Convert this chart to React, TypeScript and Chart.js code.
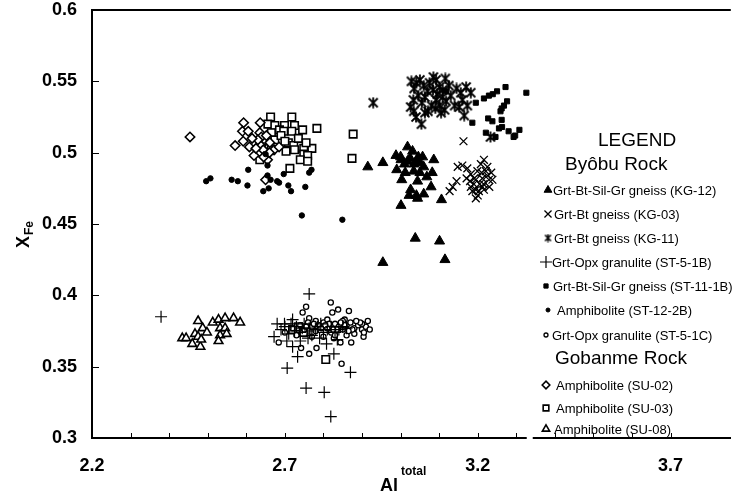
import React, { useEffect, useRef } from 'react';
import { Chart, registerables } from 'chart.js';
import { drawPoint } from 'chart.js/helpers';

Chart.register(...registerables);

type P = [number, number];

// Axis ticks
const xTickLabels = [2.2, 2.7, 3.2, 3.7];
const xMinorTicks = [2.3, 2.4, 2.5, 2.6, 2.7, 2.8, 2.9, 3.0, 3.1, 3.2, 3.3, 3.4, 3.5, 3.6, 3.7];
const yTicks = [0.3, 0.35, 0.4, 0.45, 0.5, 0.55, 0.6];

// Byôbu Rock
const kg12: P[] = [
  [2.915, 0.490], [2.954, 0.493], [2.988, 0.498], [3.018, 0.504], [3.031, 0.501], [3.046, 0.497],
  [3.057, 0.497], [3.001, 0.495], [3.018, 0.494], [3.041, 0.494], [3.086, 0.495], [2.990, 0.488],
  [3.034, 0.487], [3.060, 0.490], [3.082, 0.486], [3.003, 0.481], [3.044, 0.480], [3.068, 0.483],
  [3.079, 0.476], [3.026, 0.474], [3.022, 0.470], [3.041, 0.470], [3.060, 0.471], [3.044, 0.468],
  [3.106, 0.467], [3.001, 0.463], [3.038, 0.440], [3.101, 0.438], [2.954, 0.423], [3.115, 0.425],
  [3.000, 0.497], [3.010, 0.492], [3.025, 0.496], [3.035, 0.492], [3.050, 0.493], [3.012, 0.486],
  [3.050, 0.486],
];
const kg03: P[] = [
  [3.163, 0.508], [3.127, 0.473], [3.135, 0.476], [3.145, 0.480], [3.148, 0.490], [3.160, 0.491],
  [3.173, 0.489], [3.182, 0.485], [3.195, 0.481], [3.208, 0.492], [3.216, 0.495], [3.225, 0.490],
  [3.229, 0.481], [3.238, 0.481], [3.212, 0.476], [3.195, 0.474], [3.182, 0.476], [3.186, 0.473],
  [3.203, 0.473], [3.216, 0.474], [3.171, 0.482], [3.191, 0.482], [3.212, 0.482], [3.221, 0.487],
  [3.199, 0.487], [3.205, 0.478], [3.190, 0.478], [3.200, 0.470], [3.215, 0.478], [3.225, 0.484],
  [3.235, 0.486], [3.180, 0.480], [3.195, 0.468], [3.210, 0.486], [3.230, 0.476],
];
const kg11: P[] = [
  [2.929, 0.535], [3.028, 0.550], [3.041, 0.549], [3.060, 0.547], [3.092, 0.551], [3.116, 0.552],
  [3.101, 0.546], [3.084, 0.544], [3.046, 0.540], [3.063, 0.539], [3.033, 0.537], [3.026, 0.532],
  [3.092, 0.537], [3.109, 0.539], [3.101, 0.533], [3.118, 0.536], [3.114, 0.530], [3.063, 0.528],
  [3.071, 0.529], [3.034, 0.529], [3.054, 0.520], [3.156, 0.542], [3.182, 0.542], [3.160, 0.537],
  [3.173, 0.533], [3.152, 0.532], [3.165, 0.526], [3.140, 0.533], [3.109, 0.544], [3.233, 0.511],
  [3.035, 0.545], [3.050, 0.551], [3.075, 0.549], [3.085, 0.553], [3.095, 0.541], [3.070, 0.543],
  [3.055, 0.535], [3.080, 0.533], [3.105, 0.528], [3.040, 0.525], [3.125, 0.547], [3.130, 0.540],
  [3.145, 0.545], [3.170, 0.546], [3.090, 0.531],
];
const st51b: P[] = [
  [2.379, 0.385], [2.763, 0.401], [2.699, 0.380], [2.716, 0.380], [2.672, 0.371], [2.733, 0.357],
  [2.706, 0.349], [2.827, 0.359], [2.808, 0.366], [2.870, 0.346], [2.755, 0.335], [2.802, 0.332],
  [2.819, 0.315], [2.720, 0.364], [2.763, 0.377], [2.836, 0.369], [2.793, 0.380], [2.690, 0.376],
  [2.710, 0.373], [2.730, 0.378], [2.740, 0.374], [2.750, 0.380], [2.770, 0.372], [2.780, 0.376],
  [2.800, 0.374], [2.820, 0.378], [2.840, 0.376], [2.860, 0.377], [2.740, 0.368], [2.760, 0.370],
  [2.790, 0.370], [2.720, 0.383], [2.705, 0.368], [2.700, 0.378], [2.725, 0.375], [2.745, 0.377],
  [2.765, 0.375], [2.785, 0.378], [2.810, 0.376], [2.830, 0.374], [2.850, 0.378], [2.680, 0.380],
];
const st111b: P[] = [
  [3.216, 0.538], [3.229, 0.540], [3.239, 0.541], [3.250, 0.543], [3.272, 0.546], [3.326, 0.542],
  [3.276, 0.536], [3.268, 0.533], [3.262, 0.531], [3.195, 0.535], [3.186, 0.521], [3.227, 0.524],
  [3.238, 0.522], [3.262, 0.523], [3.255, 0.517], [3.280, 0.515], [3.308, 0.516], [3.221, 0.514],
  [3.246, 0.511], [3.293, 0.511], [3.118, 0.543], [3.259, 0.529], [3.263, 0.518], [3.297, 0.512],
];
const st122b: P[] = [
  [2.496, 0.480], [2.507, 0.482], [2.562, 0.481], [2.578, 0.480], [2.605, 0.488], [2.603, 0.477],
  [2.644, 0.473], [2.658, 0.475], [2.655, 0.484], [2.655, 0.491], [2.663, 0.481], [2.680, 0.480],
  [2.685, 0.479], [2.697, 0.485], [2.709, 0.477], [2.716, 0.473], [2.753, 0.476], [2.763, 0.486],
  [2.769, 0.488], [2.650, 0.499], [2.744, 0.456], [2.849, 0.453],
];
const st51c: P[] = [
  [2.755, 0.392], [2.746, 0.388], [2.763, 0.384], [2.819, 0.395], [2.823, 0.388], [2.838, 0.390],
  [2.866, 0.389], [2.855, 0.383], [2.684, 0.367], [2.742, 0.363], [2.782, 0.363], [2.763, 0.359],
  [2.847, 0.352], [2.904, 0.371], [2.872, 0.367], [2.844, 0.367], [2.827, 0.370], [2.700, 0.374],
  [2.720, 0.377], [2.740, 0.379], [2.750, 0.376], [2.760, 0.381], [2.770, 0.378], [2.780, 0.375],
  [2.790, 0.379], [2.800, 0.381], [2.810, 0.377], [2.820, 0.374], [2.830, 0.380], [2.840, 0.378],
  [2.850, 0.376], [2.860, 0.379], [2.870, 0.381], [2.880, 0.377], [2.890, 0.379], [2.900, 0.376],
  [2.910, 0.378], [2.920, 0.376], [2.880, 0.373], [2.860, 0.372], [2.830, 0.372], [2.800, 0.371],
  [2.770, 0.371], [2.900, 0.380], [2.850, 0.382], [2.810, 0.383], [2.780, 0.382], [2.730, 0.372],
  [2.815, 0.380], [2.835, 0.376], [2.855, 0.379], [2.875, 0.376], [2.895, 0.381], [2.905, 0.374],
  [2.865, 0.375], [2.845, 0.381], [2.825, 0.376], [2.795, 0.377], [2.775, 0.380], [2.755, 0.378],
  [2.915, 0.382], [2.885, 0.382], [2.805, 0.379],
];

// Gobanme Rock
const su02: P[] = [
  [2.454, 0.511], [2.593, 0.521], [2.636, 0.521], [2.590, 0.515], [2.605, 0.515], [2.571, 0.505],
  [2.592, 0.508], [2.608, 0.504], [2.635, 0.514], [2.620, 0.498], [2.638, 0.505], [2.644, 0.502],
  [2.655, 0.495], [2.650, 0.481], [2.648, 0.509], [2.661, 0.507], [2.672, 0.502], [2.685, 0.504],
  [2.639, 0.511], [2.625, 0.503], [2.630, 0.509], [2.645, 0.497], [2.660, 0.500], [2.615, 0.510],
  [2.652, 0.512],
];
const su03: P[] = [
  [2.663, 0.525], [2.718, 0.525], [2.656, 0.520], [2.674, 0.519], [2.699, 0.519], [2.725, 0.519],
  [2.686, 0.516], [2.697, 0.515], [2.718, 0.515], [2.746, 0.516], [2.783, 0.517], [2.877, 0.513],
  [2.874, 0.496], [2.709, 0.507], [2.723, 0.505], [2.703, 0.501], [2.725, 0.502], [2.749, 0.503],
  [2.770, 0.503], [2.749, 0.499], [2.759, 0.498], [2.740, 0.495], [2.759, 0.494], [2.713, 0.489],
  [2.635, 0.495], [2.665, 0.514], [2.674, 0.509], [2.665, 0.502], [2.690, 0.512], [2.700, 0.508],
  [2.735, 0.510], [2.755, 0.507], [2.720, 0.376], [2.735, 0.378], [2.748, 0.374], [2.806, 0.355],
];
const su08: P[] = [
  [2.434, 0.370], [2.444, 0.370], [2.460, 0.366], [2.467, 0.373], [2.475, 0.382], [2.487, 0.377],
  [2.498, 0.374], [2.481, 0.364], [2.475, 0.371], [2.513, 0.381], [2.528, 0.383], [2.545, 0.384],
  [2.567, 0.384], [2.584, 0.381], [2.532, 0.377], [2.545, 0.377], [2.532, 0.372], [2.549, 0.373],
  [2.528, 0.368], [2.483, 0.369],
];

const groupByobu = 'Byôbu Rock';
const groupGobanme = 'Gobanme Rock';

function makeAsterisk(size: number, lw: number): HTMLCanvasElement {
  const c = document.createElement('canvas');
  c.width = size;
  c.height = size;
  const g = c.getContext('2d')!;
  const m = 1.5;
  g.strokeStyle = '#000';
  g.lineWidth = lw;
  g.beginPath();
  g.moveTo(m, m); g.lineTo(size - m, size - m);
  g.moveTo(size - m, m); g.lineTo(m, size - m);
  g.moveTo(size / 2, 0.5); g.lineTo(size / 2, size - 0.5);
  g.stroke();
  return c;
}

const FONT = '"Liberation Sans", Arial, sans-serif';

export default function App() {
  const ref = useRef<HTMLCanvasElement | null>(null);

  useEffect(() => {
    if (!ref.current) return;
    const star = makeAsterisk(12, 1.8);
    const starSmall = makeAsterisk(9, 1.5);

    const toPts = (a: P[]) => a.map(([x, y]) => ({ x, y }));
    const base = { showLine: false, borderColor: '#000', pointHoverRadius: 0 };

    const series = [
      { label: 'Grt-Bt-Sil-Gr gneiss (KG-12)', data: kg12, style: 'triangle', r: 5.8, bg: '#000', bw: 1, lr: 4.5 },
      { label: 'Grt-Bt gneiss (KG-03)', data: kg03, style: 'crossRot', r: 5.5, bg: '#000', bw: 1.3, lr: 5 },
      { label: 'Grt-Bt gneiss (KG-11)', data: kg11, style: star, r: 5, bg: '#000', bw: 1, lr: 4 },
      { label: 'Grt-Opx granulite (ST-5-1B)', data: st51b, style: 'cross', r: 6, bg: '#000', bw: 1.2, lr: 6 },
      { label: 'Grt-Bt-Sil-Gr gneiss (ST-11-1B)', data: st111b, style: 'rect', r: 3.6, bg: '#000', bw: 1, lr: 3 },
      { label: 'Amphibolite (ST-12-2B)', data: st122b, style: 'circle', r: 2.7, bg: '#000', bw: 1, lr: 2 },
      { label: 'Grt-Opx granulite (ST-5-1C)', data: st51c, style: 'circle', r: 2.6, bg: '#fff', bw: 1.3, lr: 2 },
      { label: 'Amphibolite (SU-02)', data: su02, style: 'rectRot', r: 4.7, bg: '#fff', bw: 1.6, lr: 3.8 },
      { label: 'Amphibolite (SU-03)', data: su03, style: 'rect', r: 5.3, bg: '#fff', bw: 1.6, lr: 4 },
      { label: 'Amphibolite (SU-08)', data: su08, style: 'triangle', r: 5, bg: '#fff', bw: 1.6, lr: 4.2 },
    ];

    const datasets = series.map((s) => ({
      ...base,
      label: s.label,
      data: toPts(s.data),
      pointStyle: s.style as any,
      pointRadius: s.r,
      pointBackgroundColor: s.bg,
      pointBorderColor: '#000',
      pointBorderWidth: s.bw,
    }));

    const fmt = (v: number) => String(Number(v.toFixed(2)));

    const framePlugin = {
      id: 'frame',
      afterDraw(chart: any) {
        const { ctx, chartArea: a, scales } = chart;
        const x = scales.x;
        const y = scales.y;
        ctx.save();
        ctx.strokeStyle = '#000';
        // top border
        ctx.lineWidth = 2;
        ctx.beginPath();
        ctx.moveTo(a.left - 1, a.top);
        ctx.lineTo(a.right, a.top);
        ctx.stroke();
        // inner tick marks
        ctx.lineWidth = 1;
        ctx.beginPath();
        xMinorTicks.forEach((v) => {
          const px = Math.round(x.getPixelForValue(v)) + 0.5;
          ctx.moveTo(px, a.bottom);
          ctx.lineTo(px, a.bottom - 5);
        });
        yTicks.forEach((v) => {
          const py = Math.round(y.getPixelForValue(v)) + 0.5;
          ctx.moveTo(a.left, py);
          ctx.lineTo(a.left + 7, py);
        });
        ctx.stroke();
        // small break in the x axis line
        ctx.fillStyle = '#fff';
        ctx.fillRect(x.getPixelForValue(3.327), a.bottom - 2, 6, 4);

        // axis titles
        ctx.fillStyle = '#000';
        ctx.textBaseline = 'alphabetic';
        ctx.textAlign = 'left';
        ctx.font = `bold 18px ${FONT}`;
        ctx.fillText('Al', 380, 491);
        ctx.font = `bold 12px ${FONT}`;
        ctx.fillText('total', 401, 475);

        ctx.save();
        ctx.translate(29, 248);
        ctx.rotate(-Math.PI / 2);
        ctx.font = `bold 18px ${FONT}`;
        ctx.fillText('X', 0, 0);
        const xw = ctx.measureText('X').width;
        ctx.font = `bold 12px ${FONT}`;
        ctx.fillText('Fe', xw + 1, 4);
        ctx.restore();

        // legend
        const head = `19px ${FONT}`;
        const item = `13px ${FONT}`;
        ctx.textBaseline = 'middle';
        ctx.font = head;
        ctx.fillText('LEGEND', 598, 141);
        ctx.fillText(groupByobu, 565, 165);
        ctx.fillText(groupGobanme, 555, 359);

        const rows = [190, 214, 238, 262, 286, 310, 335, 385, 408, 429];
        const textX = [553, 554, 554, 552, 553, 557, 552, 556, 556, 554];
        const markX = [548, 548, 548, 546, 546, 548, 546, 546, 546, 546];
        series.forEach((s, i) => {
          const st = s.style === star ? starSmall : s.style;
          ctx.strokeStyle = '#000';
          ctx.fillStyle = s.bg;
          ctx.lineWidth = s.bw;
          drawPoint(ctx, { pointStyle: st as any, radius: s.lr, borderWidth: s.bw, rotation: 0 } as any, markX[i], rows[i]);
          ctx.fillStyle = '#000';
          ctx.font = item;
          ctx.fillText(s.label, textX[i], rows[i] + 1);
        });
        ctx.restore();
      },
    };

    const chart = new Chart(ref.current, {
      type: 'scatter',
      data: { datasets: datasets as any },
      options: {
        responsive: false,
        animation: false,
        devicePixelRatio: 1,
        layout: { padding: { top: 10, right: 0, left: 0, bottom: 0 } },
        plugins: { legend: { display: false }, tooltip: { enabled: false } },
        scales: {
          x: {
            type: 'linear',
            min: 2.2,
            max: 3.856,
            afterFit: (s: any) => { s.height = 55; s.paddingLeft = 0; s.paddingRight = 0; },
            afterBuildTicks: (s: any) => { s.ticks = xTickLabels.map((v) => ({ value: v })); },
            ticks: {
              padding: 17,
              color: '#000',
              autoSkip: false,
              maxRotation: 0,
              font: { family: FONT, size: 18, weight: 'bold' },
              callback: (v: any) => fmt(Number(v)),
            },
            grid: { drawOnChartArea: false, drawTicks: false },
            border: { color: '#000', width: 2 },
          },
          y: {
            type: 'linear',
            min: 0.3,
            max: 0.6,
            afterFit: (s: any) => { s.width = 92; s.paddingTop = 0; s.paddingBottom = 0; },
            afterBuildTicks: (s: any) => { s.ticks = yTicks.map((v) => ({ value: v })); },
            ticks: {
              padding: 15,
              color: '#000',
              autoSkip: false,
              font: { family: FONT, size: 18, weight: 'bold' },
              callback: (v: any) => fmt(Number(v)),
            },
            grid: { drawOnChartArea: false, drawTicks: false },
            border: { color: '#000', width: 2 },
          },
        },
      },
      plugins: [framePlugin],
    });

    return () => chart.destroy();
  }, []);

  return (
    <div style={{ position: 'fixed', left: 0, top: 0, width: 738, height: 493, background: '#fff' }}>
      <canvas ref={ref} width={738} height={493} style={{ display: 'block', width: 738, height: 493 }} />
    </div>
  );
}
